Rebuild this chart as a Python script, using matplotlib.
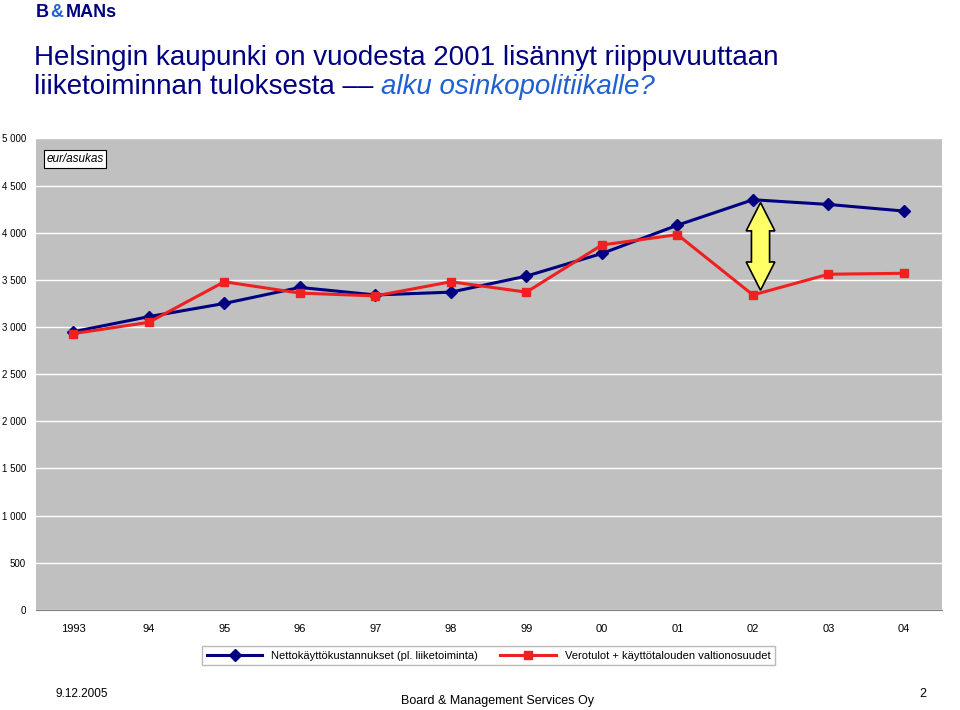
import matplotlib
matplotlib.use("Agg")
import matplotlib.pyplot as plt
from matplotlib.patches import Polygon

plt.rcParams["font.family"] = "Liberation Sans"

years = ["1993", "94", "95", "96", "97", "98", "99", "00", "01", "02", "03", "04"]
netto = [2950, 3110, 3250, 3420, 3340, 3370, 3540, 3780, 4080, 4350, 4300, 4230]
vero = [2930, 3050, 3480, 3360, 3330, 3480, 3370, 3870, 3980, 3340, 3560, 3570]
yticks = [0, 500, 1000, 1500, 2000, 2500, 3000, 3500, 4000, 4500, 5000]
ylabels = ["0", "500", "1 000", "1 500", "2 000", "2 500", "3 000", "3 500", "4 000", "4 500", "5 000"]

fig = plt.figure(figsize=(9.6, 7.1), dpi=100)
fig.text(0.037, 0.983, "B", fontsize=13, fontweight="bold", color="#000080", va="center")
fig.text(0.052, 0.983, "&", fontsize=13, fontweight="bold", color="#2060d0", va="center")
fig.text(0.069, 0.983, "MANs", fontsize=13, fontweight="bold", color="#000080", va="center")
fig.text(0.035, 0.918, "Helsingin kaupunki on vuodesta 2001 lisännyt riippuvuuttaan", fontsize=20, color="#000080", va="center")
t1 = fig.text(0.035, 0.877, "liiketoiminnan tuloksesta \u2013\u2013 ", fontsize=20, color="#000080", va="center")
fig.canvas.draw()
bb = t1.get_window_extent(fig.canvas.get_renderer())
fig.text(bb.x1 / fig.bbox.width, 0.877, "alku osinkopolitiikalle?", fontsize=20, color="#2060d0", style="italic", va="center")

ax = fig.add_axes([0.037, 0.141, 0.944, 0.664])
ax.set_facecolor("#c0c0c0")
x = list(range(len(years)))
ax.plot(x, netto, color="#000080", lw=2.2, marker="D", ms=6, label="Nettokäyttökustannukset (pl. liiketoiminta)")
ax.plot(x, vero, color="#ee2020", lw=2.2, marker="s", ms=6, label="Verotulot + käyttötalouden valtionosuudet")
ax.set_xlim(-0.5, 11.5)
ax.set_ylim(0, 5000)
ax.set_yticks(yticks)
ax.set_yticklabels(ylabels, fontsize=7)
ax.set_xticks(x)
ax.set_xticklabels(years, fontsize=8)
ax.grid(axis="y", color="white", lw=1)
ax.set_axisbelow(True)
ax.tick_params(axis="y", length=0, pad=7)
ax.tick_params(axis="x", length=0, pad=10)
for s in ["left", "top", "right"]:
    ax.spines[s].set_visible(False)
ax.spines["bottom"].set_color("#808080")

cx, lo, hi = 9.1, 3390, 4320
bw, hw, hl = 0.12, 0.19, 300
ax.add_patch(Polygon([(cx, lo), (cx + hw, lo + hl), (cx + bw, lo + hl), (cx + bw, hi - hl),
                      (cx + hw, hi - hl), (cx, hi), (cx - hw, hi - hl), (cx - bw, hi - hl),
                      (cx - bw, lo + hl), (cx - hw, lo + hl)], closed=True,
                     fc="#ffff66", ec="black", lw=1.2, zorder=4))
ax.text(0.012, 4780, "eur/asukas", fontsize=8.5, style="italic", transform=ax.get_yaxis_transform(),
        va="center", bbox=dict(fc="white", ec="black", lw=0.8, pad=2))
ax.legend(loc="upper center", bbox_to_anchor=(0.5, -0.065), ncol=2, fontsize=8, frameon=True,
          fancybox=False, edgecolor="#aaaaaa", handlelength=5)

fig.text(0.058, 0.018, "9.12.2005", fontsize=8.5)
fig.text(0.418, 0.008, "Board & Management Services Oy", fontsize=9)
fig.text(0.958, 0.018, "2", fontsize=9)
fig.savefig("out.png", dpi=100)
